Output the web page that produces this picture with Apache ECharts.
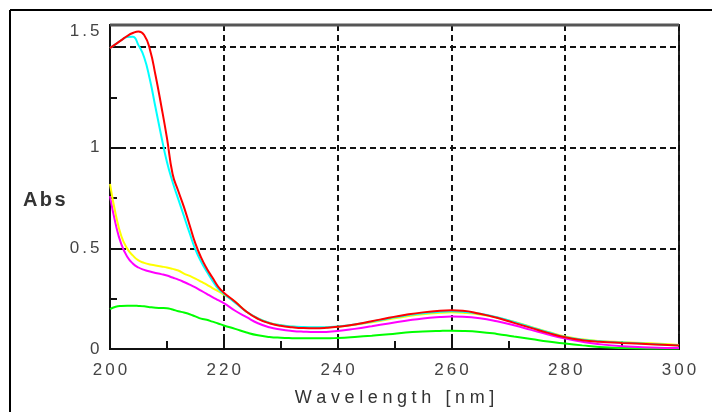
<!DOCTYPE html>
<html>
<head>
<meta charset="utf-8">
<script src="https://cdn.jsdelivr.net/npm/echarts@6/dist/echarts.min.js"></script>
<style>
  html, body { margin: 0; padding: 0; background: #fff; }
  #chart { width: 712px; height: 412px; }
</style>
</head>
<body>
<div id="chart"></div>
<script>
// wavelength grid (nm)
const wavelength = [200, 201, 202, 203, 204, 205, 206, 207, 208, 209, 210, 211, 212, 213, 214, 215, 216, 217, 218, 219,
  220, 222, 224, 226, 228, 230, 232, 234, 236, 238, 240, 243, 246, 249, 252, 255, 258, 260, 262, 265,
  268, 271, 274, 277, 280, 283, 286, 290, 295, 300];

// absorbance per sample
const red = [1.495, 1.515, 1.535, 1.555, 1.57, 1.578, 1.56, 1.49, 1.36, 1.21, 1.05, 0.87, 0.785, 0.705, 0.615, 0.525, 0.455, 0.4, 0.355, 0.31,
  0.28, 0.235, 0.185, 0.15, 0.128, 0.115, 0.108, 0.104, 0.103, 0.105, 0.11, 0.122, 0.138, 0.155, 0.17, 0.182, 0.19, 0.192, 0.19, 0.175,
  0.155, 0.13, 0.105, 0.08, 0.058, 0.044, 0.036, 0.03, 0.024, 0.018];
const cyan = [1.495, 1.515, 1.535, 1.55, 1.552, 1.51, 1.45, 1.34, 1.2, 1.06, 0.93, 0.83, 0.745, 0.66, 0.575, 0.495, 0.435, 0.385, 0.34, 0.3,
  0.275, 0.23, 0.185, 0.152, 0.13, 0.118, 0.112, 0.109, 0.108, 0.108, 0.112, 0.122, 0.136, 0.152, 0.167, 0.178, 0.185, 0.187, 0.185, 0.175,
  0.158, 0.134, 0.108, 0.083, 0.06, 0.046, 0.038, 0.032, 0.025, 0.018];
const yellow = [0.82, 0.67, 0.56, 0.5, 0.465, 0.44, 0.428, 0.42, 0.415, 0.41, 0.405, 0.398, 0.39, 0.375, 0.363, 0.35, 0.335, 0.32, 0.303, 0.287,
  0.27, 0.235, 0.185, 0.152, 0.13, 0.118, 0.111, 0.107, 0.106, 0.107, 0.11, 0.12, 0.133, 0.148, 0.162, 0.173, 0.18, 0.182, 0.18, 0.172,
  0.157, 0.135, 0.11, 0.085, 0.062, 0.048, 0.04, 0.034, 0.028, 0.02];
const magenta = [0.76, 0.62, 0.52, 0.46, 0.425, 0.405, 0.393, 0.385, 0.378, 0.372, 0.365, 0.355, 0.345, 0.333, 0.32, 0.306, 0.29, 0.274, 0.258, 0.243,
  0.228, 0.19, 0.158, 0.128, 0.108, 0.097, 0.09, 0.086, 0.084, 0.085, 0.089, 0.1, 0.113, 0.127, 0.14, 0.152, 0.159, 0.161, 0.16, 0.153,
  0.138, 0.118, 0.095, 0.072, 0.052, 0.036, 0.024, 0.014, 0.008, 0.005];
const green = [0.198, 0.21, 0.214, 0.215, 0.215, 0.214, 0.212, 0.208, 0.205, 0.204, 0.203, 0.196, 0.188, 0.181, 0.173, 0.162, 0.151, 0.145, 0.136, 0.127,
  0.117, 0.1, 0.082, 0.068, 0.06, 0.056, 0.054, 0.053, 0.053, 0.053, 0.055, 0.06, 0.066, 0.073, 0.082, 0.087, 0.09, 0.091, 0.09, 0.085,
  0.075, 0.062, 0.05, 0.037, 0.027, 0.018, 0.01, 0.005, 0.003, 0.003];

const yTicks = [0, 0.5, 1, 1.5];

const FONT = "'Liberation Sans', Arial, sans-serif";

// the original text is drawn letter-spaced, so each character gets its own rich token
function spaced(str, style) {
  return str.split('').map(ch => '{' + style + '|' + ch + '}').join('');
}

function pairs(values) {
  return wavelength.map((w, i) => [w, values[i]]);
}

function lineSeries(name, values, color) {
  return {
    name: name,
    type: 'line',
    data: pairs(values),
    smooth: true,
    showSymbol: false,
    lineStyle: { color: color, width: 2 },
    itemStyle: { color: color }
  };
}

const gridLine = { show: true, lineStyle: { color: '#111', width: 2, type: [6, 4] } };

const chart = echarts.init(document.getElementById('chart'));

chart.setOption({
  animation: false,
  backgroundColor: '#fff',
  grid: { left: 110, right: 33, top: 25, bottom: 62, show: true, borderColor: '#222', borderWidth: 2 },
  xAxis: {
    type: 'value',
    min: 200,
    max: 300,
    interval: 20,
    name: spaced('Wavelength [nm]', 'n'),
    nameLocation: 'middle',
    nameGap: 40,
    nameTextStyle: {
      rich: { n: { fontSize: 18, fontFamily: FONT, color: '#333', padding: [0, 2.3, 0, 2.3] } }
    },
    axisLine: { lineStyle: { color: '#111', width: 2 } },
    axisTick: { inside: true, length: 15, lineStyle: { color: '#111', width: 2 } },
    minorTick: { show: true, splitNumber: 2, length: 8, lineStyle: { color: '#111', width: 2 } },
    splitLine: gridLine,
    axisLabel: {
      margin: 13,
      formatter: v => spaced(String(v), 't'),
      rich: { t: { fontSize: 17, fontFamily: FONT, color: '#444', padding: [0, 1.5, 0, 1.5] } }
    }
  },
  yAxis: {
    type: 'value',
    min: 0,
    max: 1.61,
    interval: 0.5,
    axisLine: { lineStyle: { color: '#111', width: 2 } },
    axisTick: { inside: true, length: 12, lineStyle: { color: '#111', width: 2 } },
    minorTick: { show: true, splitNumber: 2, length: 7, lineStyle: { color: '#111', width: 2 } },
    splitLine: gridLine,
    axisLabel: {
      margin: 9,
      formatter: v => {
        if (!yTicks.includes(v)) return '';
        return v === 1.5 ? spaced(String(v), 'h') : spaced(String(v), 't');
      },
      rich: {
        t: { fontSize: 17, fontFamily: FONT, color: '#444', padding: [0, 1.5, 0, 1.5] },
        h: { fontSize: 17, fontFamily: FONT, color: '#444', padding: [0, 1.5, 32, 1.5] }
      }
    }
  },
  graphic: [
    { type: 'line', shape: { x1: 10, y1: 10, x2: 712, y2: 10 }, style: { stroke: '#000', lineWidth: 2 } },
    { type: 'line', shape: { x1: 10, y1: 10, x2: 10, y2: 412 }, style: { stroke: '#000', lineWidth: 2 } },
    { type: 'line', z: 10, shape: { x1: 110, y1: 25, x2: 679, y2: 25 }, style: { stroke: '#555', lineWidth: 3 } },
    {
      type: 'text', left: 23, top: 190,
      style: {
        text: spaced('Abs', 'a'),
        rich: { a: { fontSize: 20, fontWeight: 'bold', fontFamily: FONT, fill: '#333', padding: [0, 1.2, 0, 1.2] } }
      }
    }
  ],
  series: [
    lineSeries('green', green, '#00ff00'),
    lineSeries('magenta', magenta, '#ff00ff'),
    lineSeries('yellow', yellow, '#ffff00'),
    lineSeries('cyan', cyan, '#00ffff'),
    lineSeries('red', red, '#ff0000')
  ]
});
</script>
</body>
</html>
